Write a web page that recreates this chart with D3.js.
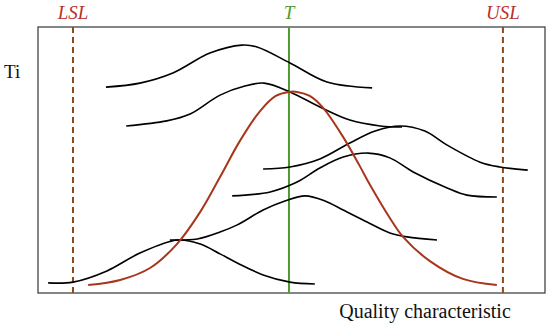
<!DOCTYPE html>
<html>
<head>
<meta charset="utf-8">
<script src="https://cdn.jsdelivr.net/npm/d3@7"></script>
<style>
  body { margin: 0; background: #fff; }
</style>
</head>
<body>
<div class="chart"></div>
<script>
// spec limits on the quality-characteristic axis (0..100)
const specNames = ['LSL', 'T', 'USL'];
const specValues = [6.9, 49.5, 91.7];

// shifting process curves (top to bottom)
const curve1X = [13.4, 20.1, 26.6, 33.9, 40.2, 43.2, 49.7, 57.0, 65.9];
const curve1Y = [77.4, 78.9, 82.7, 90.2, 93.2, 92.5, 86.5, 79.3, 77.1];
const curve2X = [17.4, 25.4, 30.0, 35.9, 40.8, 44.6, 49.7, 55.6, 61.5, 67.5, 71.8];
const curve2Y = [62.8, 64.7, 67.3, 74.4, 77.8, 78.9, 75.6, 69.9, 65.0, 62.8, 62.4];
const curve3X = [44.4, 49.7, 55.6, 61.5, 66.5, 71.4, 76.3, 80.7, 87.2, 91.1, 96.6];
const curve3Y = [46.6, 47.4, 50.4, 56.4, 60.9, 62.8, 60.9, 55.6, 49.2, 47.4, 46.2];
const curve4X = [38.3, 45.8, 51.1, 55.6, 60.2, 65.1, 69.4, 74.0, 80.7, 84.6, 90.5];
const curve4Y = [36.5, 38.0, 41.7, 47.0, 51.1, 52.6, 50.8, 45.5, 39.5, 36.8, 36.1];
const curve5X = [26.0, 31.4, 35.9, 39.3, 44.4, 48.7, 52.7, 56.6, 60.2, 64.9, 69.4, 72.8, 78.7];
const curve5Y = [19.9, 20.3, 22.9, 25.6, 31.2, 34.6, 36.5, 34.6, 31.2, 26.7, 22.6, 21.1, 19.9];
const curve6X = [2.0, 6.9, 13.6, 20.1, 27.6, 32.0, 35.9, 39.3, 44.4, 49.7, 54.6];
const curve6Y = [3.8, 4.1, 8.3, 15.0, 19.9, 18.4, 14.7, 11.3, 6.8, 4.1, 3.4];

// overall distribution (red)
const overallX = [9.9, 16.2, 22.1, 27.4, 32.0, 35.9, 39.8, 43.8, 46.9, 49.5, 51.1, 53.6, 56.2, 60.2, 63.5, 65.5, 69.4, 72.0, 77.3, 83.8, 90.5];
const overallY = [3.0, 4.9, 9.4, 18.4, 30.5, 43.6, 57.1, 68.4, 74.1, 75.6, 75.6, 74.1, 69.7, 58.6, 47.6, 40.6, 28.2, 21.1, 12.0, 5.3, 3.0];

const blackCurves = [
  [curve1X, curve1Y], [curve2X, curve2Y], [curve3X, curve3Y],
  [curve4X, curve4Y], [curve5X, curve5Y], [curve6X, curve6Y]
];

const width = 550, height = 327;
const box = { left: 38, right: 545, top: 27, bottom: 293 };
const serif = '"Liberation Serif", "Times New Roman", "DejaVu Serif", serif';

const svg = d3.select('.chart')
  .append('svg')
    .attr('width', width)
    .attr('height', height);

const x = d3.scaleLinear().domain([0, 100]).range([box.left, box.right]);
const y = d3.scaleLinear().domain([0, 100]).range([box.bottom, box.top]);

const line = d3.line()
  .x(d => x(d[0]))
  .y(d => y(d[1]))
  .curve(d3.curveCatmullRom.alpha(0.5));

const zip = (xs, ys) => xs.map((v, i) => [v, ys[i]]);

// frame
svg.append('rect')
  .attr('x', box.left)
  .attr('y', box.top)
  .attr('width', box.right - box.left)
  .attr('height', box.bottom - box.top)
  .attr('fill', 'none')
  .attr('stroke', '#444')
  .attr('stroke-width', 1.3);

// spec lines
const specColor = ['#8a4a1c', '#4f9a2e', '#8a4a1c'];
const labelColor = ['#b8302c', '#4f9a2e', '#b8302c'];
specValues.forEach((v, i) => {
  svg.append('line')
    .attr('x1', x(v)).attr('x2', x(v))
    .attr('y1', box.top).attr('y2', box.bottom)
    .attr('stroke', specColor[i])
    .attr('stroke-width', 2)
    .attr('stroke-dasharray', specNames[i] == 'T' ? null : '6,4');

  svg.append('text')
    .attr('x', x(v))
    .attr('y', 19)
    .attr('text-anchor', 'middle')
    .attr('font-family', serif)
    .attr('font-style', 'italic')
    .attr('font-size', 19)
    .attr('fill', labelColor[i])
    .text(specNames[i]);
});

// process curves
svg.selectAll('path.shift')
  .data(blackCurves)
  .enter().append('path')
    .attr('class', 'shift')
    .attr('d', d => line(zip(d[0], d[1])))
    .attr('fill', 'none')
    .attr('stroke', '#000')
    .attr('stroke-width', 1.6);

svg.append('path')
  .attr('d', line(zip(overallX, overallY)))
  .attr('fill', 'none')
  .attr('stroke', '#a8361c')
  .attr('stroke-width', 2);

// labels
svg.append('text')
  .attr('x', 4)
  .attr('y', 78)
  .attr('font-family', serif)
  .attr('font-size', 19)
  .attr('fill', '#111')
  .text('Ti');

svg.append('text')
  .attr('x', 425)
  .attr('y', 318)
  .attr('text-anchor', 'middle')
  .attr('font-family', serif)
  .attr('font-size', 20)
  .attr('fill', '#111')
  .text('Quality characteristic');
</script>
</body>
</html>
